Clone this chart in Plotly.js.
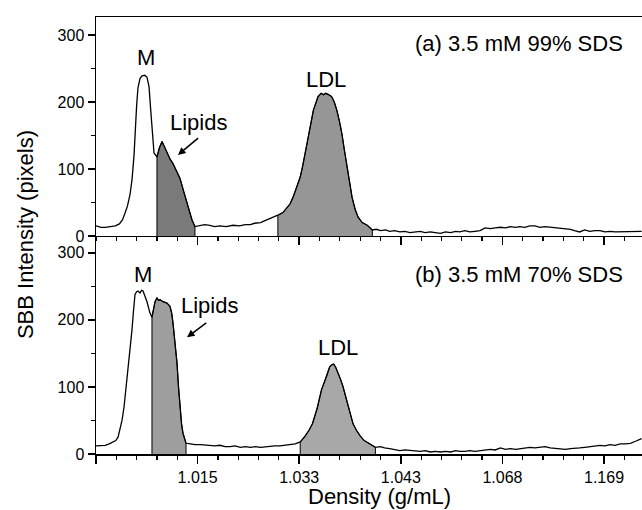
<!DOCTYPE html>
<html>
<head>
<meta charset="utf-8">
<script src="https://cdn.plot.ly/plotly-3.0.1.min.js"></script>
<style>html,body{margin:0;padding:0;background:#fff;}#chart{width:642px;height:510px;}</style>
</head>
<body>
<div id="chart"></div>
<script>
// Position along the tube (arbitrary units); density labels at tick positions
const tickPositions = [0, 100, 200, 300, 400, 500];
const tickLabels = ['', '1.015', '1.033', '1.043', '1.068', '1.169'];

// (a) 3.5 mM 99% SDS
const xA = [0,5,9,14,19,23,26,28.5,31,33.5,35.5,37.4,38.4,40,41.3,43.3,45.3,48,50.2,52.2,53.5,55.1,57.1,60,62.5,65,67.5,69.9,72.8,75.8,79,82.7,86,89.6,92,94.5,97.4,102,107,112,117,122,128,135,141,147,152,156,162,168,173,179,184,188,191,194,197.5,201,203.5,206,208.5,211,214,218.5,221.5,224,226,229,232,234.5,237,239.5,242,244.5,247,249.5,252,255,258,262,267,272,276,280,285,289,294,299,304,309,314,319,324,329,334,339,344,349,354,358,363,368,373,378,383,388,393,398,403,408,413,417,422,427,432,437,442,447,452,457,462,467,471,476,481,486,491,496,501,506,511,516,521,526,531,537];
const yA = [15,13,13,14,15,18,24,34,45,62,85,120,154,195,221,235,239,240,237,223,195,163,124,118,132,141,133,124,115,108,98,86,68,49,35,24,14,15,17,16,14,15,14,16,15,17,17,19,20,24,27,31,35,42,48,58,72,88,105,124,144,163,188,208,213,211,213,211,208,200,188,172,153,128,103,80,58,40,28,20,16,9,10,8,9,7,8,6,7,5,6,7,5,6,5,4,6,5,7,6,8,6,7,8,12,11,12,13,12,14,13,14,13,15,15,13,14,13,12,12,11,10,8,6,9,7,8,8,6,7,6,6,7,6,7,7];
const lipidsA = [60, 97.4];
const ldlA = [179, 272];

// (b) 3.5 mM 70% SDS
const xB = [0,5,9,13,16.7,19.5,21.7,23.6,25.6,27.6,30.5,33.5,35.4,37,38.4,40,41.3,43.3,44.8,46.3,48.3,50.2,53.1,55.1,58.1,60,61.5,63,66,69.9,72.8,74.5,75.8,77.7,79.7,81.2,82.7,84.2,85.6,88.6,93,97.4,103,108,112,117,122,127,132,137,142,147,152,157,162,167,171,176,181,186,191,196,201,203.5,206,209.5,213,217.5,222,227,230,232,234,236,238,240.5,243,245.5,248,250.5,253,256.5,260,264,268,271.5,275,280,284,289,294,299,304,309,314,319,324,329,334,339,344,349,354,358,363,368,373,378,383,388,393,398,403,408,413,417,422,427,432,437,442,447,452,457,462,467,471,476,481,486,491,496,501,506,511,516,521,526,531,537];
const yB = [12,13,13,15,18,20,25,36,50,70,110,160,185,215,238,242,243,240,244,243,236,227,210,204,227,233,229,230,227,225,220,210,195,165,136,100,70,45,31,16,15,14,14,13,13,12,13,11,11,12,10,11,10,11,10,11,11,12,12,13,14,15,18,22,27,35,45,67,96,116,130,133,134,129,122,112,101,87,72,58,45,35,27,20,16,13,10,11,9,8,7,5,6,5,4,4,5,3,4,3,4,3,5,4,4,5,4,5,6,7,6,9,7,8,7,8,9,10,9,10,11,9,8,8,7,8,8,9,10,11,12,13,12,14,13,15,15,16,19,23];
const lipidsB = [55.1, 88.6];
const ldlB = [201, 275];

function band(xs, ys, range) {
  const bx = [range[0]], by = [0];
  for (let i = 0; i < xs.length; i++) {
    if (xs[i] >= range[0] && xs[i] <= range[1]) { bx.push(xs[i]); by.push(ys[i]); }
  }
  bx.push(range[1]); by.push(0);
  return {x: bx, y: by};
}

function shade(xs, ys, range, color, xa, ya) {
  const b = band(xs, ys, range);
  return {x: b.x, y: b.y, xaxis: xa, yaxis: ya, mode: 'lines', fill: 'toself',
    fillcolor: color, line: {color: '#000', width: 1}, hoverinfo: 'skip', showlegend: false};
}

const traces = [
  shade(xA, yA, lipidsA, '#7a7a7a', 'x2', 'y2'),
  shade(xA, yA, ldlA, '#969696', 'x2', 'y2'),
  {x: xA, y: yA, xaxis: 'x2', yaxis: 'y2', mode: 'lines', line: {color: '#000', width: 1.3}, showlegend: false},
  shade(xB, yB, lipidsB, '#9e9e9e', 'x', 'y'),
  shade(xB, yB, ldlB, '#a8a8a8', 'x', 'y'),
  {x: xB, y: yB, xaxis: 'x', yaxis: 'y', mode: 'lines', line: {color: '#000', width: 1.3}, showlegend: false}
];

const fontFam = '"Liberation Sans", Arial, sans-serif';
const xCommon = {
  range: [0, 537.4], tickvals: tickPositions, ticktext: tickLabels,
  ticks: 'outside', ticklen: 8, tickwidth: 1.5, tickcolor: '#000',
  minor: {dtick: 20, tick0: 0, ticks: 'outside', ticklen: 4, tickwidth: 1.2, tickcolor: '#000', showgrid: false},
  showline: true, linecolor: '#000', linewidth: 1.5, showgrid: false, zeroline: false,
  tickfont: {size: 16, color: '#000', family: fontFam}
};
const yCommon = {
  tick0: 0, dtick: 100, ticks: 'outside', ticklen: 7, tickwidth: 1.5, tickcolor: '#000',
  minor: {dtick: 50, ticks: 'outside', ticklen: 4, tickwidth: 1.2, tickcolor: '#000', showgrid: false},
  showline: true, linecolor: '#000', linewidth: 1.5, showgrid: false, zeroline: false,
  tickfont: {size: 16, color: '#000', family: fontFam}
};

const annFont = {size: 22, color: '#000', family: fontFam};
const layout = {
  width: 642, height: 510,
  margin: {l: 96, r: 0, t: 17, b: 56},
  paper_bgcolor: '#fff', plot_bgcolor: '#fff',
  showlegend: false,
  xaxis: Object.assign({}, xCommon, {anchor: 'y', domain: [0, 1]}),
  xaxis2: Object.assign({}, xCommon, {anchor: 'y2', matches: 'x', showticklabels: false, mirror: true}),
  yaxis: Object.assign({}, yCommon, {domain: [0, 0.4989], range: [0, 325]}),
  yaxis2: Object.assign({}, yCommon, {domain: [0.4989, 1], range: [0, 327]}),
  annotations: [
    {xref: 'x2', yref: 'y2', x: 49, y: 267, text: 'M', showarrow: false, font: annFont},
    {xref: 'x2', yref: 'y2', x: 101, y: 170, text: 'Lipids', showarrow: false, font: annFont},
    {xref: 'x2', yref: 'y2', axref: 'x2', ayref: 'y2', x: 80.7, y: 121, ax: 102, ay: 148, text: '', showarrow: true, arrowhead: 2, arrowsize: 1, arrowwidth: 1.5, arrowcolor: '#000'},
    {xref: 'x2', yref: 'y2', x: 226, y: 233, text: 'LDL', showarrow: false, font: annFont},
    {xref: 'x2', yref: 'y2', x: 521, y: 288, xanchor: 'right', text: '(a) 3.5 mM 99% SDS', showarrow: false, font: annFont},
    {xref: 'x', yref: 'y', x: 46, y: 267, text: 'M', showarrow: false, font: annFont},
    {xref: 'x', yref: 'y', x: 112, y: 221, text: 'Lipids', showarrow: false, font: annFont},
    {xref: 'x', yref: 'y', axref: 'x', ayref: 'y', x: 89.6, y: 174, ax: 110, ay: 197, text: '', showarrow: true, arrowhead: 2, arrowsize: 1, arrowwidth: 1.5, arrowcolor: '#000'},
    {xref: 'x', yref: 'y', x: 238, y: 159, text: 'LDL', showarrow: false, font: annFont},
    {xref: 'x', yref: 'y', x: 521, y: 268, xanchor: 'right', text: '(b) 3.5 mM 70% SDS', showarrow: false, font: annFont},
    {xref: 'paper', yref: 'paper', x: -0.130, y: 0.501, text: 'SBB Intensity (pixels)', textangle: -90, showarrow: false, xanchor: 'center', yanchor: 'middle', font: {size: 22, color: '#000', family: fontFam}},
    {xref: 'paper', yref: 'paper', x: 0.520, y: -0.098, text: 'Density (g/mL)', showarrow: false, xanchor: 'center', yanchor: 'middle', font: {size: 22, color: '#000', family: fontFam}}
  ]
};

Plotly.newPlot('chart', traces, layout, {staticPlot: true, displayModeBar: false});
</script>
</body>
</html>
